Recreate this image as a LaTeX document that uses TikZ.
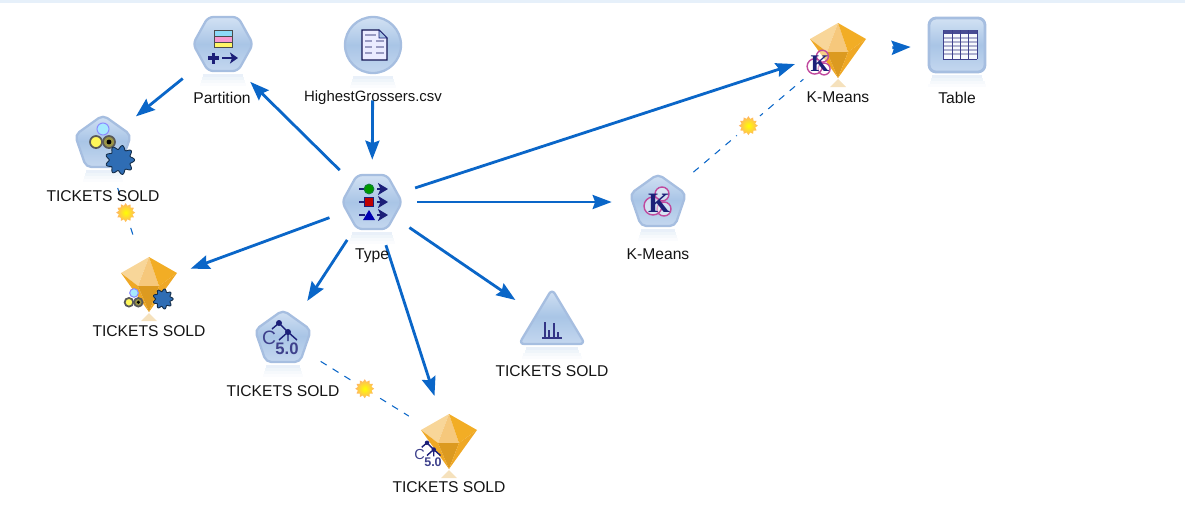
\documentclass[tikz,border=0pt]{standalone}
\usepackage{fontspec}
\setmainfont{Liberation Sans}
\newfontfamily\kfont{Liberation Serif}
\usetikzlibrary{arrows.meta,shapes.geometric}

\definecolor{linkblue}{HTML}{0A66C8}
\definecolor{rimblue}{HTML}{A6BEE0}
\definecolor{bodytop}{HTML}{D2E1F3}
\definecolor{bodymid}{HTML}{A9C5E6}
\definecolor{bodylow}{HTML}{C4D7EF}
\definecolor{glyphnavy}{HTML}{1C1F78}
\definecolor{kpink}{HTML}{C04A9E}
\definecolor{stripblue}{HTML}{E6F0FA}
\definecolor{gemA}{HTML}{F8D699}
\definecolor{gemB}{HTML}{F6C87C}
\definecolor{gemC}{HTML}{F2AD25}
\definecolor{gemD}{HTML}{EFA825}
\definecolor{gemE}{HTML}{DC9A20}
\definecolor{gearblue}{HTML}{2F6DB4}

\tikzset{
    iconspot/.style={circle, inner sep=0pt, minimum size=#1*0.04cm},
    bodyfill/.style={draw=rimblue, line width=1.3pt, line join=round, rounded corners=3pt,
        top color=bodytop, bottom color=bodylow, middle color=bodymid},
    mainlink/.style={color=linkblue, line width=1.6pt,
        -{Stealth[length=0.38cm, width=0.28cm, inset=0.05cm]}},
    modellink/.style={color=linkblue, line width=0.6pt, dash pattern=on 0.14cm off 0.14cm},
    sunhalo/.style={circle, fill=white, inner sep=0pt, minimum size=0.6cm},
    sunmark/.style={star, star points=12, star point ratio=1.35, inner sep=0pt, minimum size=0.38cm,
        inner color=yellow, outer color=orange!60!white},
    nodetext/.style={inner sep=0pt, text=black!92, font=\fontsize{8.9}{10}\selectfont},
    %
    mirrorband/.pic={
        \foreach \n/\tone in {0/26,1/18,2/11,3/5} {
            \fill[bodymid!\tone!white] ({-20-\n},{3*\n}) rectangle ({20+\n},{3+3*\n});
        }
    },
    hexbody/.pic={
        \pic (-mirror) at (0,30) {mirrorband};
        \path[bodyfill] (-15,-27) -- (15,-27) -- (30,0) -- (15,27) -- (-15,27) -- (-30,0) -- cycle;
    },
    pentbody/.pic={
        \pic (-mirror) [xscale=0.85] at (0,27) {mirrorband};
        \path[bodyfill] (0,-28) -- (28,-8) -- (17,24) -- (-17,24) -- (-28,-8) -- cycle;
    },
    roundbody/.pic={
        \pic (-mirror) at (0,31) {mirrorband};
        \draw[bodyfill] (0,0) circle (28);
    },
    tablebody/.pic={
        \pic (-mirror) [xscale=1.25] at (0,30) {mirrorband};
        \draw[bodyfill, rounded corners=4pt, line width=1.6pt] (-28,-27) rectangle (28,27);
    },
    trianglebody/.pic={
        \pic (-mirror) [xscale=1.3] at (0,22) {mirrorband};
        \path[bodyfill, rounded corners=3pt] (0,-36) -- (33,19) -- (-33,19) -- cycle;
    },
    gembody/.pic={
        \fill[gemE!30!white] (0,29) -- (-8,37) -- (8,37) -- cycle;
        \fill[gemA] (0,-27) -- (-28,-11) -- (-11,2) -- cycle;
        \fill[gemB] (0,-27) -- (-11,2) -- (10,2) -- cycle;
        \fill[gemC] (0,-27) -- (28,-11) -- (10,2) -- cycle;
        \fill[gemD] (-28,-11) -- (-11,2) -- (0,28) -- cycle;
        \fill[gemE] (-11,2) -- (10,2) -- (0,28) -- cycle;
        \fill[gemD] (10,2) -- (28,-11) -- (0,28) -- cycle;
    },
    %
    typeglyph/.pic={
        \foreach \row in {-13,0,13} {
            \draw[glyphnavy, line width=0.8pt] (-13,\row) -- (-7,\row);
            \draw[glyphnavy, line width=0.9pt, -{Stealth[length=0.2cm, width=0.24cm, inset=0.05cm]}] (5,\row) -- (16,\row);
        }
        \draw[glyphnavy!60!green, fill=green!60!black, line width=0.4pt] (-3,-13) circle (5);
        \draw[glyphnavy, fill=red!75!black, line width=0.4pt] (-7.5,-4.5) rectangle (1.5,4.5);
        \fill[blue!70!black] (-9,18) -- (-3,8) -- (3,18) -- cycle;
    },
    partglyph/.pic={
        \fill[cyan!45!white] (-9,-14) rectangle (9,-8);
        \fill[magenta!40!white] (-9,-8) rectangle (9,-2);
        \fill[yellow!60!white] (-9,-2) rectangle (9,3);
        \draw[black!70, line width=0.4pt] (-9,-14) rectangle (9,3) (-9,-8) -- (9,-8) (-9,-2) -- (9,-2);
        \draw[glyphnavy, line width=2.2pt] (-15,14) -- (-4,14) (-9.5,8.5) -- (-9.5,19.5);
        \draw[glyphnavy, line width=0.8pt, -{Stealth[length=0.16cm, width=0.22cm, inset=0.04cm]}] (-1,14) -- (15,14);
    },
    docglyph/.pic={
        \draw[glyphnavy!70!black, fill=white!92!blue, line width=0.7pt] (-11,-15) -- (6,-15) -- (14,-7) -- (14,15) -- (-11,15) -- cycle;
        \draw[glyphnavy, line width=0.4pt, fill=bodymid] (6,-15) -- (6,-7) -- (14,-7) -- cycle;
        \foreach \row in {-4,2,8} {
            \draw[glyphnavy!45!white, line width=1.4pt] (-8,\row) -- (-1,\row) (3,\row) -- (11,\row);
        }
        \draw[glyphnavy!45!white, line width=1.4pt] (-8,-10) -- (3,-10);
    },
    gridglyph/.pic={
        \fill[white!85!bodytop] (-14,-14) rectangle (20,15);
        \fill[glyphnavy!80!white] (-14,-14) rectangle (20,-10);
        \foreach \row in {-6,-2,2,6,10} {
            \draw[glyphnavy!35!white, line width=0.8pt] (-14,\row) -- (20,\row);
        }
        \foreach \col in {-14,-5,3,11,20} {
            \draw[glyphnavy!85!white, line width=0.5pt] (\col,-14) -- (\col,15);
        }
        \draw[glyphnavy!85!white, line width=0.5pt] (-14,15) -- (20,15);
    },
    barsglyph/.pic={
        \draw[glyphnavy!90!white, line width=1.5pt] (-7,12) -- (-7,-3) (-3,12) -- (-3,5) (2,12) -- (2,-2) (6,12) -- (6,7);
        \draw[glyphnavy!90!white, line width=0.8pt] (-10,13) -- (10,13);
    },
    kglyph/.pic={
        \draw[kpink, fill=white, fill opacity=0.45, line width=0.8pt] (4,-8) circle (7);
        \draw[kpink, fill=white, fill opacity=0.45, line width=0.8pt] (6,7) circle (7);
        \draw[kpink, fill=white, fill opacity=0.45, line width=0.8pt] (-5,4) circle (9);
        \node (-letter) [inner sep=0pt, text=glyphnavy, font=\kfont\bfseries\fontsize{16}{16}\selectfont] at (1,1) {K};
    },
    cfiveglyph/.pic={
        \draw[glyphnavy, line width=0.8pt] (-11,-9) -- (-4,-15) -- (5,-6) -- (-4,2) (5,-6) -- (5,3) (5,-6) -- (14,2);
        \fill[glyphnavy] (-4,-15) circle (3) (5,-6) circle (3);
        \node (-letter) [inner sep=0pt, text=glyphnavy!85!white, font=\fontsize{11}{11}\selectfont] at (-14,0) {C};
        \node (-value) [inner sep=0pt, text=glyphnavy!85!white, font=\bfseries\fontsize{9.5}{10}\selectfont] at (4,11) {5.0};
    },
    autoglyph/.pic={
        \draw[blue!45!white, fill=blue!25!cyan!35!white, line width=0.6pt] (0,-14) circle (6);
        \draw[black!65, fill=yellow!65!white, line width=1pt] (-7,-1) circle (6);
        \draw[black!65, fill=yellow!55!black, line width=1pt] (6,-1) circle (6);
        \fill[black] (6,-1) circle (2.4);
    },
    gearglyph/.pic={
        \fill[gearblue, draw=black!60!gearblue, line width=0.5pt] plot[domain=0:356, samples=90, smooth] (\x:{11+1.7*cos(9*\x)}) -- cycle;
    },
}

\begin{document}
\begin{tikzpicture}[x=0.02cm, y=-0.02cm]
    \useasboundingbox (0,0) rectangle (1185,522);
    \fill[stripblue] (0,0) rectangle (1185,3);

    \node (Partition) [iconspot=45] at (218,50) {};
    \node (Source) [iconspot=55] at (373,45) {};
    \node (Type) [iconspot=45] at (372,202) {};
    \node (AutoModel) [iconspot=42] at (103,143) {};
    \node (AutoNugget) [iconspot=44] at (149,284) {};
    \node (TreeModel) [iconspot=44] at (283,338) {};
    \node (TreeNugget) [iconspot=47] at (449,441) {};
    \node (Graph) [iconspot=44] at (552,325) {};
    \node (KModel) [iconspot=46] at (658,202) {};
    \node (KNugget) [iconspot=45] at (838,50) {};
    \node (Table) [iconspot=46] at (957,45) {};

    % icons
    \pic (PartitionBody) at (223,44) {hexbody};
    \pic (PartitionGlyph) at (223,44) {partglyph};
    \pic (SourceBody) at (Source) {roundbody};
    \pic (SourceGlyph) at (Source) {docglyph};
    \pic (TypeBody) at (Type) {hexbody};
    \pic (TypeGlyph) at (Type) {typeglyph};
    \pic (AutoBody) at (AutoModel) {pentbody};
    \pic (AutoGlyph) at (AutoModel) {autoglyph};
    \pic (AutoGear) [scale=1.15] at (120,160) {gearglyph};
    \pic (AutoGem) at (AutoNugget) {gembody};
    \pic (AutoGemGlyph) [scale=0.72] at (134,303) {autoglyph};
    \pic (AutoGemGear) [scale=0.8] at (163,299) {gearglyph};
    \pic (TreeBody) at (TreeModel) {pentbody};
    \pic (TreeGlyph) at (TreeModel) {cfiveglyph};
    \pic (TreeGem) at (TreeNugget) {gembody};
    \pic (TreeGemGlyph) [scale=0.75, transform shape] at (430,454) {cfiveglyph};
    \pic (GraphBody) at (Graph) {trianglebody};
    \pic (GraphGlyph) at (Graph) {barsglyph};
    \pic (KBody) at (KModel) {pentbody};
    \pic (KGlyph) at (KModel) {kglyph};
    \pic (KGem) at (KNugget) {gembody};
    \pic (KGemGlyph) [scale=0.85, transform shape] at (819,63) {kglyph};
    \pic (TableBody) at (Table) {tablebody};
    \pic (TableGlyph) at (957,44) {gridglyph};

    % model links
    \draw[modellink, shorten <=0.1cm, shorten >=0.12cm] (AutoModel) -- node[sunhalo] (AutoHalo) {} (AutoNugget);
    \draw[modellink] (TreeModel) -- node[sunhalo] (TreeHalo) {} (TreeNugget);
    \draw[modellink] (KModel) -- node[sunhalo] (KHalo) {} (KNugget);
    \node (AutoSun) [sunmark] at (AutoHalo) {};
    \node (TreeSun) [sunmark] at (TreeHalo) {};
    \node (KSun) [sunmark] at (KHalo) {};

    \path[mainlink, shorten >=-0.06cm] (Source) edge (Type);
    \path[mainlink] (Partition) edge (AutoModel);
    %
    \path[mainlink] (Type) edge (Partition);
    \path[mainlink] (Type) edge (KNugget);
    \path[mainlink] (Type) edge (KModel);
    \path[mainlink] (Type) edge (AutoNugget);
    \path[mainlink] (Type) edge (TreeModel);
    \path[mainlink] (Type) edge (TreeNugget);
    \path[mainlink] (Type) edge (Graph);
    %
    \path[mainlink, shorten <=0.18cm] (KNugget) edge (Table);

    % labels
    \node (PartitionText) [nodetext] at (222,98) {Partition};
    \node (SourceText) [nodetext, below of = Source, node distance=1.06cm, font=\fontsize{8.5}{10}\selectfont] {HighestGrossers.csv};
    \node (TypeText) [nodetext, below of = Type, node distance=1.08cm] {Type};
    \node (AutoModelText) [nodetext, below of = AutoModel, node distance=1.06cm] {TICKETS SOLD};
    \node (AutoNuggetText) [nodetext, below of = AutoNugget, node distance=0.94cm] {TICKETS SOLD};
    \node (TreeModelText) [nodetext, below of = TreeModel, node distance=1.06cm] {TICKETS SOLD};
    \node (TreeNuggetText) [nodetext, below of = TreeNugget, node distance=0.92cm] {TICKETS SOLD};
    \node (GraphText) [nodetext, below of = Graph, node distance=0.92cm] {TICKETS SOLD};
    \node (KModelText) [nodetext, below of = KModel, node distance=1.04cm] {K-Means};
    \node (KNuggetText) [nodetext, below of = KNugget, node distance=0.94cm] {K-Means};
    \node (TableText) [nodetext, below of = Table, node distance=1.06cm] {Table};
\end{tikzpicture}
\end{document}
